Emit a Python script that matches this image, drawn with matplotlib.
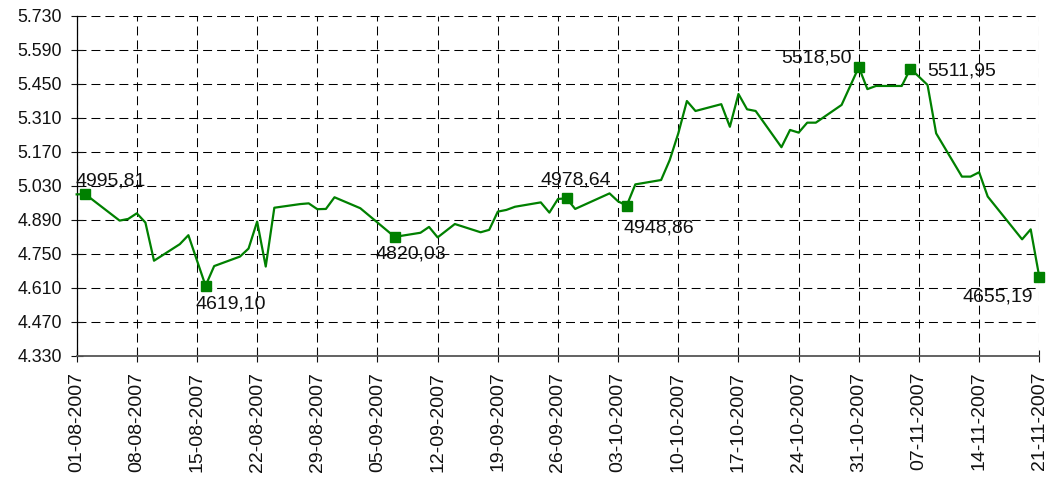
import numpy as np
import matplotlib
matplotlib.use('Agg')
import matplotlib.pyplot as plt
import matplotlib.dates as mdates
from matplotlib.ticker import FuncFormatter

plt.rcParams['font.family'] = ['Liberation Sans', 'DejaVu Sans']

# daily closes, Aug-Nov 2007
dates = ['2007-08-01', '2007-08-02', '2007-08-06', '2007-08-07', '2007-08-08',
         '2007-08-09', '2007-08-10', '2007-08-13', '2007-08-14', '2007-08-16',
         '2007-08-17', '2007-08-20', '2007-08-21', '2007-08-22', '2007-08-23',
         '2007-08-24', '2007-08-27', '2007-08-28', '2007-08-29', '2007-08-30',
         '2007-08-31', '2007-09-03', '2007-09-07', '2007-09-10', '2007-09-11',
         '2007-09-12', '2007-09-14', '2007-09-17', '2007-09-18', '2007-09-19',
         '2007-09-20', '2007-09-21', '2007-09-24', '2007-09-25', '2007-09-26',
         '2007-09-27', '2007-09-28', '2007-10-02', '2007-10-03', '2007-10-04',
         '2007-10-05', '2007-10-08', '2007-10-09', '2007-10-10', '2007-10-11',
         '2007-10-12', '2007-10-15', '2007-10-16', '2007-10-17', '2007-10-18',
         '2007-10-19', '2007-10-22', '2007-10-23', '2007-10-24', '2007-10-25',
         '2007-10-26', '2007-10-29', '2007-10-31', '2007-11-01', '2007-11-02',
         '2007-11-05', '2007-11-06', '2007-11-07', '2007-11-08', '2007-11-09',
         '2007-11-12', '2007-11-13', '2007-11-14', '2007-11-15', '2007-11-19',
         '2007-11-20', '2007-11-21']
values = [4995, 4995.81, 4887, 4894, 4917,
          4879, 4722, 4790, 4827, 4619.10,
          4700, 4739, 4772, 4883, 4698,
          4940, 4955, 4958, 4934, 4935,
          4983, 4938, 4820.03, 4837, 4861,
          4818, 4873, 4839, 4849, 4924,
          4931, 4944, 4962, 4920, 4976,
          4978.64, 4935, 4999, 4966, 4948.86,
          5036, 5054, 5136, 5246, 5379,
          5338, 5366, 5273, 5408, 5345,
          5338, 5189, 5260, 5249, 5290,
          5290, 5363, 5518.50, 5428, 5441,
          5441, 5511.95, 5479, 5445, 5246,
          5068, 5068, 5086, 4986, 4810,
          4851, 4655.19]

# points that carry a marker and a value label
marked = ['2007-08-02', '2007-08-16', '2007-09-07', '2007-09-27',
          '2007-10-04', '2007-10-31', '2007-11-06', '2007-11-21']

yticks = np.arange(4330, 5731, 140)

x = np.array(dates, dtype='datetime64[D]')
v = np.array(values)

fig = plt.figure(figsize=(10.5, 4.79), dpi=100)
ax = fig.add_axes([0.073, 0.2568, 0.9168, 0.7104])

green = '#008000'
ax.plot(x, v, color=green, lw=1.6, zorder=3, clip_on=False)

mk = np.isin(x, np.array(marked, dtype='datetime64[D]'))
ax.plot(x[mk], v[mk], 's', color=green, ms=6.5, zorder=4, clip_on=False)

# label offsets in pixels (dx, dy, ha)
offs = {
    '2007-08-02': (-10, 9, 'left'),
    '2007-08-16': (-10, -23, 'left'),
    '2007-09-07': (-19, -22, 'left'),
    '2007-09-27': (-26, 14, 'left'),
    '2007-10-04': (-3, -27, 'left'),
    '2007-10-31': (-7, 5, 'right'),
    '2007-11-06': (17, -7, 'left'),
    '2007-11-21': (-6, -25, 'right'),
}
for d in marked:
    i = dates.index(d)
    dx, dy, ha = offs[d]
    lab = f'{values[i]:.2f}'.replace('.', ',')
    ax.annotate(lab, (x[i], v[i]), xytext=(dx * 0.72, dy * 0.72),
                textcoords='offset points', ha=ha, va='baseline',
                fontsize=14, color='#111111', zorder=5)

ax.set_xlim(np.datetime64('2007-08-01'), np.datetime64('2007-11-21'))
ax.set_ylim(4330, 5730)
ax.set_yticks(yticks)
ax.yaxis.set_major_formatter(FuncFormatter(lambda t, p: f'{int(round(t)):,}'.replace(',', '.')))

ax.set_xticks(np.arange(np.datetime64('2007-08-01'), np.datetime64('2007-11-22'), 7))
ax.xaxis.set_major_formatter(mdates.DateFormatter('%d-%m-%Y'))
plt.setp(ax.get_xticklabels(), rotation=90)

ax.tick_params(axis='both', direction='inout', length=8.6, width=0.8,
               labelsize=14, colors='#111111')
ax.tick_params(axis='y', pad=6.2, labelsize=12.8)
ax.tick_params(axis='x', pad=7)

ax.grid(True, color='black', lw=0.75, linestyle=(0, (8.6, 4.8)))
ax.set_axisbelow(True)

for s in ['top', 'right']:
    ax.spines[s].set_visible(False)
ax.spines['left'].set_color('black')
ax.spines['left'].set_linewidth(0.9)
ax.spines['bottom'].set_color('#555555')
ax.spines['bottom'].set_linewidth(1.3)

fig.savefig('out.png', dpi=100)
